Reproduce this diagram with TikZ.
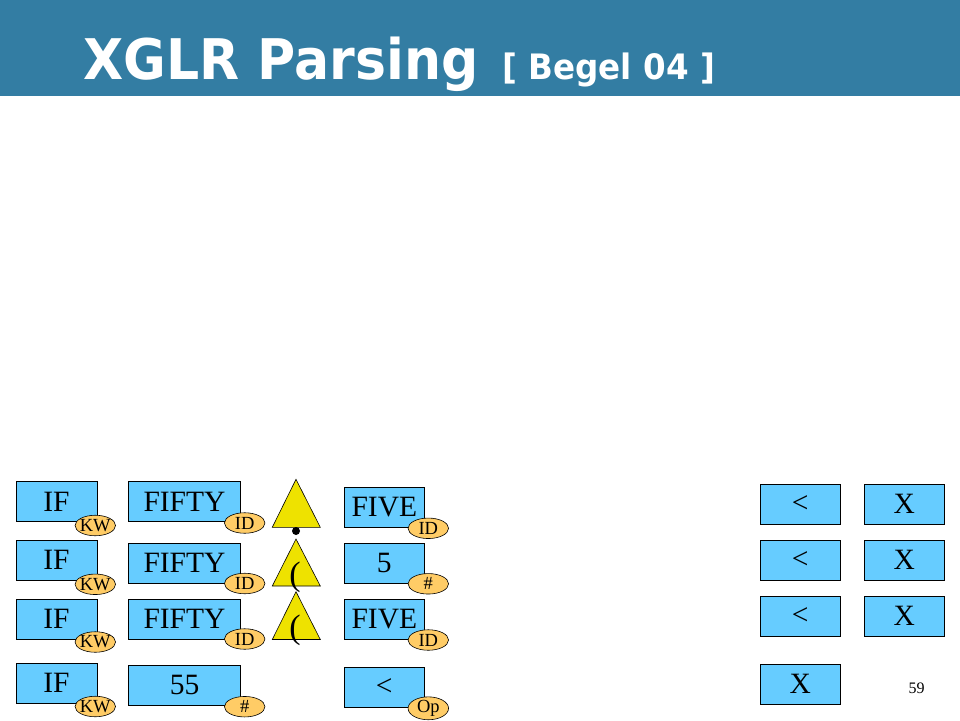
\documentclass[tikz,border=0pt]{standalone}
\usepackage{fontspec}
\usepackage{graphicx}
\setmainfont{Liberation Serif}
\newfontfamily\titlefont{DejaVu Sans}
\usetikzlibrary{shapes.geometric}
\definecolor{titleblue}{HTML}{337DA3}
\definecolor{boxblue}{HTML}{66CCFF}
\definecolor{tagorange}{HTML}{FFCC66}
\definecolor{triyellow}{HTML}{EEE200}
\newcommand\tgtext[1]{\makebox[0pt]{#1}}
\begin{document}
\begin{tikzpicture}[x=1pt,y=-1pt,
  tok/.style={draw=black, line width=0.8pt, fill=boxblue, inner sep=0pt,
    minimum height=40pt, font=\fontsize{29.5}{30}\selectfont},
  tag/.style={ellipse, draw=black, line width=0.6pt, fill=tagorange, inner sep=0pt,
    minimum width=40.5pt, minimum height=20.5pt, font=\fontsize{18.5}{19}\selectfont},
  tri/.style={draw=black, line width=0.6pt, fill=triyellow},
  paren/.style={inner sep=0pt, font=\fontsize{34}{36}\selectfont}]
\useasboundingbox (0,0) rectangle (960,720);
\fill[titleblue] (0,0) rectangle (960,96);
\node[anchor=base west, text=white, inner sep=0pt] (title) at (83,79.5)
  {\scalebox{0.93}[1]{\titlefont\bfseries\fontsize{56}{60}\selectfont XGLR Parsing\hspace{26pt}\fontsize{35}{36}\selectfont [ Begel 04 ]}};

% column 1: IF
\foreach \n/\y/\ty in {1/501.7/525.5, 2/560.3/584.3, 3/619.3/642, 4/683.3/706.5}{
  \node[tok, minimum width=81pt] (if\n) at (56.5,\y) {IF};
  \node[tag] (kw\n) at (95.3,\ty) {\tgtext{KW}};
}
% column 2: FIFTY / 55
\node[tok, minimum width=112.4pt] (fifty1) at (184.5,501.7) {FIFTY};
\node[tag] (id1) at (244.7,523) {\tgtext{ID}};
\node[tok, minimum width=112.4pt] (fifty2) at (184.5,563.3) {FIFTY};
\node[tag] (id2) at (244.7,583.5) {\tgtext{ID}};
\node[tok, minimum width=112.4pt] (fifty3) at (184.5,619.3) {FIFTY};
\node[tag] (id3) at (244.7,639) {\tgtext{ID}};
\node[tok, minimum width=112.4pt] (n55) at (184.5,685.3) {55};
\node[tag] (num1) at (244.7,706.7) {\tgtext{\#}};

% triangles
\draw[tri] (296,479.3) -- (320.3,527.3) -- (272.3,527.3) -- cycle;
\fill[black] (296,531) circle (4);
\draw[tri] (296,539) -- (320.3,586) -- (272.3,586) -- cycle;
\node[paren] (p1) at (295,577) {(};
\draw[tri] (296,591.7) -- (320.3,639.5) -- (272.3,639.5) -- cycle;
\node[paren] (p2) at (295,630) {(};

% column 3: FIVE / 5 / FIVE / <
\node[tok, minimum width=80pt] (five1) at (384.3,507.3) {FIVE};
\node[tag] (id4) at (428.3,528.3) {\tgtext{ID}};
\node[tok, minimum width=80pt] (five2) at (384.3,563.3) {5};
\node[tag] (num2) at (428.3,583.8) {\tgtext{\#}};
\node[tok, minimum width=80pt] (five3) at (384.3,619.3) {FIVE};
\node[tag] (id5) at (428.3,640) {\tgtext{ID}};
\node[tok, minimum width=80pt] (lt0) at (384.3,687.3) {<};
\node[tag] (op1) at (428.3,708.3) {\tgtext{Op}};

% right columns
\node[tok, minimum width=79.3pt] (lt1) at (800.3,504.3) {<};
\node[tok, minimum width=79.3pt] (lt2) at (800.3,560) {<};
\node[tok, minimum width=79.3pt] (lt3) at (800.3,616) {<};
\node[tok, minimum width=79.3pt] (x4) at (800.3,684.3) {X};
\node[tok, minimum width=79.7pt] (x1) at (904.2,504.3) {X};
\node[tok, minimum width=79.7pt] (x2) at (904.2,560) {X};
\node[tok, minimum width=79.7pt] (x3) at (904.2,616) {X};

\node[inner sep=0pt, font=\fontsize{16}{18}\selectfont] (page) at (916.7,688.5) {59};
\end{tikzpicture}
\end{document}
